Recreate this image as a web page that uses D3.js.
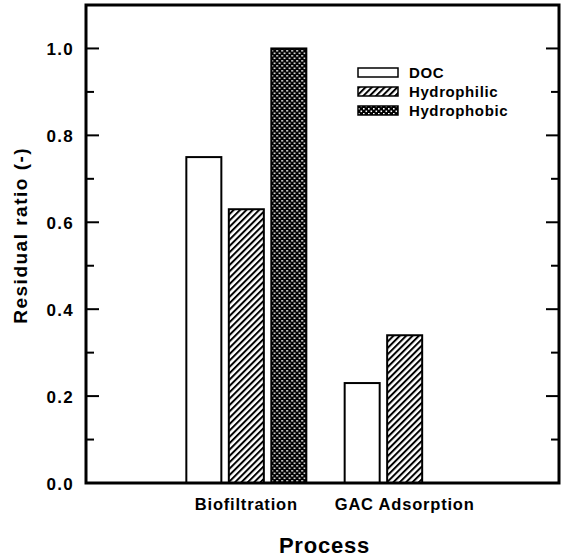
<!DOCTYPE html>
<html>
<head>
<meta charset="utf-8">
<script src="https://cdn.jsdelivr.net/npm/d3@7"></script>
<style>
  body { margin: 0; background: #fff; }
  text { font-family: "Liberation Sans", Arial, sans-serif; font-weight: bold; fill: #000; }
</style>
</head>
<body>
<svg id="chart" width="563" height="559"></svg>
<script>
// data
const processes = ["Biofiltration", "GAC Adsorption"];
const fractions = ["DOC", "Hydrophilic", "Hydrophobic"];
const docValues = [0.75, 0.23];
const hydrophilicValues = [0.63, 0.34];
const hydrophobicValues = [1.0, null];
const yTicks = [0.0, 0.2, 0.4, 0.6, 0.8, 1.0];

var margin = { top: 5, right: 4, bottom: 76, left: 86 };
const svg = d3.select("#chart");
var width = 563 - margin.left - margin.right;
var height = 559 - margin.top - margin.bottom;

const g = svg.append("g").attr("transform", `translate(${margin.left},${margin.top})`);

// patterns
const defs = svg.append("defs");
const hatch = defs.append("pattern")
  .attr("id", "hatch")
  .attr("patternUnits", "userSpaceOnUse")
  .attr("width", 4.5).attr("height", 4.5)
  .attr("patternTransform", "rotate(45)");
hatch.append("rect").attr("width", 4.5).attr("height", 4.5).attr("fill", "#fff");
hatch.append("rect").attr("x", 0).attr("width", 2).attr("height", 4.5).attr("fill", "#000");

// dark cross hatch: black with white dots on a diagonal grid
const cross = defs.append("pattern")
  .attr("id", "cross")
  .attr("patternUnits", "userSpaceOnUse")
  .attr("width", 5).attr("height", 5);
cross.append("rect").attr("width", 5).attr("height", 5).attr("fill", "#000");
cross.append("rect").attr("x", 0).attr("y", 0).attr("width", 1.6).attr("height", 1.6).attr("fill", "#fff");
cross.append("rect").attr("x", 2.5).attr("y", 2.5).attr("width", 1.6).attr("height", 1.6).attr("fill", "#fff");

const fillFor = { DOC: "#fff", Hydrophilic: "url(#hatch)", Hydrophobic: "url(#cross)" };

// scales
const x = d3.scalePoint().domain(processes).range([2, width + 4]).padding(1);
const xSub = d3.scaleBand().domain(fractions).range([-60, 60]).paddingInner(0.176);
const y = d3.scaleLinear().domain([0, 1.1]).range([height, 0]);

const rows = processes.map((p, i) => ({
  process: p,
  values: [
    { key: "DOC", value: docValues[i] },
    { key: "Hydrophilic", value: hydrophilicValues[i] },
    { key: "Hydrophobic", value: hydrophobicValues[i] }
  ].filter(d => d.value != null)
}));

// bars
g.selectAll(".grp")
  .data(rows)
  .enter()
  .append("g")
  .attr("transform", d => `translate(${x(d.process)},0)`)
  .selectAll("rect")
  .data(d => d.values)
  .enter()
  .append("rect")
  .attr("x", d => xSub(d.key))
  .attr("width", xSub.bandwidth())
  .attr("y", d => y(d.value))
  .attr("height", d => y(0) - y(d.value))
  .attr("fill", d => fillFor[d.key])
  .attr("stroke", "#000")
  .attr("stroke-width", 2);

// frame
g.append("rect")
  .attr("width", width).attr("height", height)
  .attr("fill", "none").attr("stroke", "#000").attr("stroke-width", 3);

// y ticks, major + minor, inward on both sides
const minor = d3.range(0.1, 1.1, 0.2);
yTicks.forEach(t => {
  g.append("line").attr("x1", 0).attr("x2", 13).attr("y1", y(t)).attr("y2", y(t)).attr("stroke", "#000").attr("stroke-width", 2);
  g.append("line").attr("x1", width).attr("x2", width - 13).attr("y1", y(t)).attr("y2", y(t)).attr("stroke", "#000").attr("stroke-width", 2);
});
minor.forEach(t => {
  g.append("line").attr("x1", 0).attr("x2", 8).attr("y1", y(t)).attr("y2", y(t)).attr("stroke", "#000").attr("stroke-width", 2);
  g.append("line").attr("x1", width).attr("x2", width - 8).attr("y1", y(t)).attr("y2", y(t)).attr("stroke", "#000").attr("stroke-width", 2);
});

g.selectAll(".ylab")
  .data(yTicks)
  .enter()
  .append("text")
  .attr("x", -12)
  .attr("y", d => y(d) + 6.5)
  .attr("text-anchor", "end")
  .style("font-size", "17px")
  .style("letter-spacing", "1.3px")
  .text(d => d.toFixed(1));

// category labels
g.selectAll(".xlab")
  .data(processes)
  .enter()
  .append("text")
  .attr("x", d => x(d))
  .attr("y", height + 27)
  .attr("text-anchor", "middle")
  .style("font-size", "16.5px")
  .style("letter-spacing", "0.8px")
  .text(d => d);

// axis titles
g.append("text")
  .attr("x", width / 2 + 2)
  .attr("y", height + 70)
  .attr("text-anchor", "middle")
  .style("font-size", "22px")
  .style("letter-spacing", "0.8px")
  .text("Process");

g.append("text")
  .attr("transform", "rotate(-90)")
  .attr("x", -y(0.57))
  .attr("y", -59)
  .attr("text-anchor", "middle")
  .style("font-size", "19px")
  .style("letter-spacing", "1.5px")
  .text("Residual ratio  (-)");

// legend
const legend = g.append("g").attr("transform", `translate(${358 - margin.left},${68 - margin.top})`);
fractions.forEach((f, i) => {
  legend.append("rect")
    .attr("x", 0).attr("y", i * 19)
    .attr("width", 40).attr("height", 9)
    .attr("fill", fillFor[f]).attr("stroke", "#000").attr("stroke-width", 1.5);
  legend.append("text")
    .attr("x", 51).attr("y", i * 19 + 10)
    .style("font-size", "15px")
    .style("letter-spacing", "0.6px")
    .text(f);
});
</script>
</body>
</html>
